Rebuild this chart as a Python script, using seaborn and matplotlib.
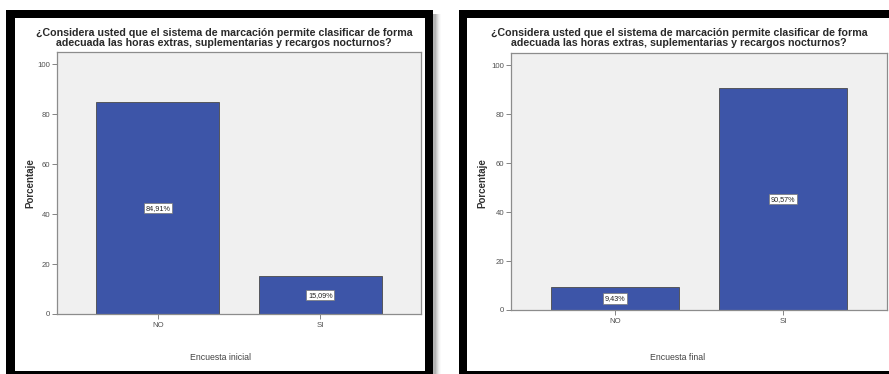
import matplotlib
matplotlib.use("Agg")
import matplotlib.pyplot as plt
import matplotlib.patches as mpatches
import seaborn as sns
import pandas as pd

# Survey answers (percent of respondents)
categories = ["NO", "SI"]
inicial_pct = [84.91, 15.09]
final_pct = [9.43, 90.57]
inicial_labels = ["84,91%", "15,09%"]
final_labels = ["9,43%", "90,57%"]
y_ticks = [0, 20, 40, 60, 80, 100]

title_text = ("¿Considera usted que el sistema de marcación permite clasificar de forma\n"
              "adecuada las horas extras, suplementarias y recargos nocturnos?")

sns.set_theme(style="white")
plt.rcParams["font.family"] = ["Liberation Sans", "DejaVu Sans"]

W, H = 889, 374
fig = plt.figure(figsize=(W / 100, H / 100), dpi=100)
fig.patch.set_facecolor("white")

BAR_COLOR = "#3D55A8"
PLOT_BG = "#F0F0F0"
BORDER = "#8C8C8C"


def rect(x0, y0, x1, y1, color, z=0, alpha=1.0):
    r = mpatches.Rectangle((x0 / W, 1 - y1 / H), (x1 - x0) / W, (y1 - y0) / H,
                           transform=fig.transFigure, facecolor=color,
                           edgecolor="none", zorder=z, alpha=alpha)
    fig.add_artist(r)


def add_axes_px(x0, y0, x1, y1):
    return fig.add_axes([x0 / W, 1 - y1 / H, (x1 - x0) / W, (y1 - y0) / H])


# Frames: soft drop shadow, black border, white inside
for i, a in enumerate([0.10, 0.08, 0.06, 0.045, 0.03, 0.02]):
    rect(433, 14, 434 + i + 2, 378, "black", z=-3, alpha=a)
rect(6, 10, 433, 380, "black", z=-2)
rect(15, 18, 425, 371, "white", z=-1)
rect(459, 10, 900, 380, "black", z=-2)
rect(467, 18, 900, 371, "white", z=-1)

panels = [
    dict(values=inicial_pct, labels=inicial_labels, xlabel="Encuesta inicial",
         box=(57, 52, 421, 314), inner=(15, 425), title_cx=224),
    dict(values=final_pct, labels=final_labels, xlabel="Encuesta final",
         box=(511, 53, 887, 310), inner=(467, 889), title_cx=679),
]

for p in panels:
    ax = add_axes_px(*p["box"])
    df = pd.DataFrame({"Respuesta": categories, "Porcentaje": p["values"]})
    sns.barplot(data=df, x="Respuesta", y="Porcentaje", ax=ax, color=BAR_COLOR,
                saturation=1, width=0.76, edgecolor="#4A4A4A", linewidth=0.6)
    ax.set_facecolor(PLOT_BG)
    ax.set_xlim(-0.62, 1.62)
    ax.set_ylim(0, 105)
    ax.set_yticks(y_ticks)
    ax.set_yticklabels([str(t) for t in y_ticks])
    ax.tick_params(axis="both", direction="out", length=3.5, width=0.6,
                   color="#707070", labelsize=5.6, labelcolor="#505050", pad=1.5)
    ax.tick_params(axis="x", labelsize=5.6, pad=2)
    ax.tick_params(left=True, bottom=True)
    for s in ax.spines.values():
        s.set_visible(True)
        s.set_color(BORDER)
        s.set_linewidth(0.9)
    ax.set_xlabel("")
    ax.set_ylabel("")

    for i, (v, lab) in enumerate(zip(p["values"], p["labels"])):
        ax.text(i, v / 2, lab, ha="center", va="center", fontsize=5.2,
                color="#222222",
                bbox=dict(boxstyle="square,pad=0.25", facecolor="white",
                          edgecolor="#777777", linewidth=0.5))

    fig.text(p["title_cx"] / W, 1 - 38.5 / H, title_text, ha="center",
             va="center", fontsize=7.7, fontweight="bold", color="#2A2A2A",
             linespacing=1.0)
    cx = (p["inner"][0] + p["inner"][1]) / 2
    fig.text(cx / W, 1 - 357 / H, p["xlabel"], ha="center", va="center",
             fontsize=6.3, color="#444444")
    fig.text((p["inner"][0] + 15) / W, 1 - 183 / H, "Porcentaje", ha="center",
             va="center", rotation=90, fontsize=7, fontweight="bold",
             color="#333333")

fig.savefig("out.png", dpi=100)
